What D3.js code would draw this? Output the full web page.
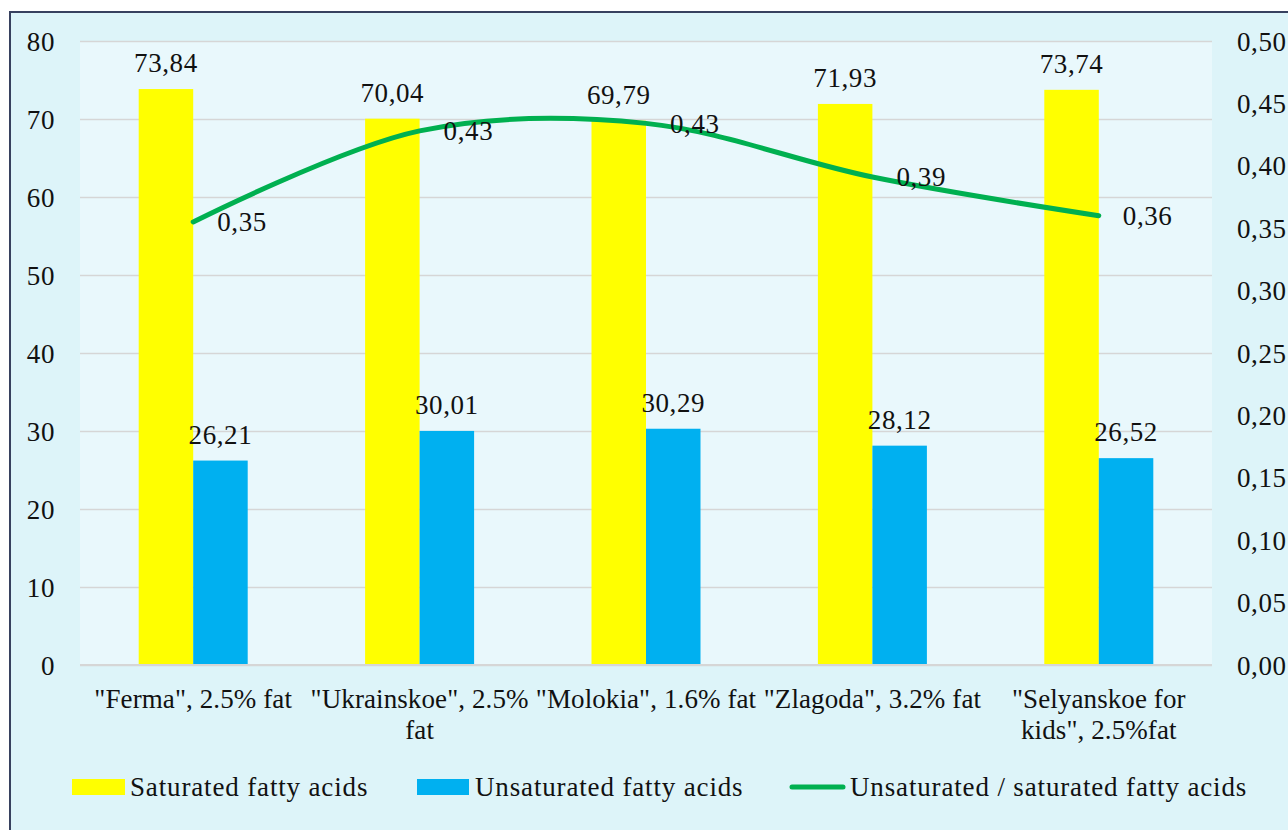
<!DOCTYPE html>
<html>
<head>
<meta charset="utf-8">
<script src="https://cdn.jsdelivr.net/npm/d3@7"></script>
<style>
  html, body { margin: 0; padding: 0; background: #ffffff; }
  svg { display: block; }
  text { font-family: "Liberation Serif", "Times New Roman", serif; fill: #111; letter-spacing: 0.6px; }
  text.cat { letter-spacing: 0.1px; }
  text.leg { letter-spacing: 0.85px; }
</style>
</head>
<body>
<svg id="chart" width="1288" height="830"></svg>
<script>
// ---- data ----
const categories = [
  ["\"Ferma\", 2.5% fat"],
  ["\"Ukrainskoe\", 2.5%", "fat"],
  ["\"Molokia\", 1.6% fat"],
  ["\"Zlagoda\", 3.2% fat"],
  ["\"Selyanskoe for", "kids\", 2.5%fat"]
];
const saturated   = [73.84, 70.04, 69.79, 71.93, 73.74];
const unsaturated = [26.21, 30.01, 30.29, 28.12, 26.52];
const ratio       = [0.355, 0.428, 0.434, 0.391, 0.360];
const leftTicks   = [0, 10, 20, 30, 40, 50, 60, 70, 80];
const rightTicks  = [0, 0.05, 0.10, 0.15, 0.20, 0.25, 0.30, 0.35, 0.40, 0.45, 0.50];
const seriesNames = ["Saturated fatty acids", "Unsaturated fatty acids", "Unsaturated / saturated fatty acids"];

// ---- layout ----
const W = 1288, H = 830;
const plot = { left: 80, right: 1212, top: 41, bottom: 665 };
const colors = { sat: "#ffff00", unsat: "#00b0f0", line: "#00b050" };
const fmt = (d, n) => d.toFixed(n).replace(".", ",");
const FS = 27;

const svg = d3.select("#chart");

// outer background + border
svg.append("rect").attr("x", 10).attr("y", 12).attr("width", W + 10).attr("height", H + 10)
  .attr("fill", "#ddf4f9").attr("stroke", "#37415f").attr("stroke-width", 2);

// plot background
svg.append("rect").attr("x", plot.left).attr("y", plot.top)
  .attr("width", plot.right - plot.left).attr("height", plot.bottom - plot.top)
  .attr("fill", "#e9f8fc");

const idx = categories.map((d, i) => i);
const groupW = 109;
const step = (plot.right - plot.left) / categories.length;
const pad = 1 - groupW / step;
const x0 = d3.scaleBand().domain(idx).range([plot.left, plot.right]).paddingInner(pad).paddingOuter(pad / 2);
const x1 = d3.scaleBand().domain(["sat", "unsat"]).range([0, x0.bandwidth()]);
const yL = d3.scaleLinear().domain([0, 80]).range([plot.bottom, plot.top]);
const yR = d3.scaleLinear().domain([0, 0.5]).range([plot.bottom, plot.top]);
const cx = i => x0(i) + x0.bandwidth() / 2;

// gridlines via axis
const grid = svg.append("g").attr("transform", `translate(${plot.left},0)`)
  .call(d3.axisLeft(yL).tickValues(leftTicks).tickSize(-(plot.right - plot.left)).tickFormat(""));
grid.select(".domain").remove();
grid.selectAll("line").attr("stroke", "#d6d6d6").attr("stroke-width", 1.6);

// left axis labels
const axL = svg.append("g").attr("transform", `translate(${plot.left},0)`)
  .call(d3.axisLeft(yL).tickValues(leftTicks).tickSize(0).tickPadding(25).tickFormat(d3.format("d")));
axL.select(".domain").remove();
axL.selectAll("text").attr("font-size", FS).attr("font-family", "Liberation Serif").attr("fill", "#111").attr("dy", "0.34em");

// right axis labels
const axR = svg.append("g").attr("transform", `translate(${plot.right},0)`)
  .call(d3.axisRight(yR).tickValues(rightTicks).tickSize(0).tickPadding(25).tickFormat(d => fmt(d, 2)));
axR.select(".domain").remove();
axR.selectAll("text").attr("font-size", FS).attr("font-family", "Liberation Serif").attr("fill", "#111").attr("dy", "0.34em");

// bars
const groups = svg.append("g").selectAll("g").data(idx).join("g")
  .attr("transform", i => `translate(${x0(i)},0)`);
groups.append("rect").attr("x", x1("sat")).attr("width", x1.bandwidth())
  .attr("y", i => yL(saturated[i])).attr("height", i => yL(0) - yL(saturated[i])).attr("fill", colors.sat);
groups.append("rect").attr("x", x1("unsat")).attr("width", x1.bandwidth())
  .attr("y", i => yL(unsaturated[i])).attr("height", i => yL(0) - yL(unsaturated[i])).attr("fill", colors.unsat);

// baseline
svg.append("line").attr("x1", plot.left).attr("x2", plot.right)
  .attr("y1", yL(0)).attr("y2", yL(0)).attr("stroke", "#d6d6d6").attr("stroke-width", 2);

// bar labels
groups.append("text").attr("x", x1("sat") + x1.bandwidth() / 2).attr("y", i => yL(saturated[i]) - 17)
  .attr("text-anchor", "middle").attr("font-size", FS).text(i => fmt(saturated[i], 2));
groups.append("text").attr("x", x1("unsat") + x1.bandwidth() / 2).attr("y", i => yL(unsaturated[i]) - 17)
  .attr("text-anchor", "middle").attr("font-size", FS).text(i => fmt(unsaturated[i], 2));

// line
const line = d3.line().x((d, i) => cx(i)).y(d => yR(d)).curve(d3.curveCatmullRom.alpha(0.5));
svg.append("path").datum(ratio).attr("d", line).attr("fill", "none")
  .attr("stroke", colors.line).attr("stroke-width", 5).attr("stroke-linecap", "round");

// line labels
svg.append("g").selectAll("text").data(ratio).join("text")
  .attr("x", (d, i) => cx(i) + 24).attr("y", d => yR(d)).attr("dy", "0.34em")
  .attr("font-size", FS).text(d => fmt(d, 2));

// category labels
const catG = svg.append("g").selectAll("text").data(idx).join("text")
  .attr("class", "cat")
  .attr("text-anchor", "middle").attr("font-size", FS)
  .attr("x", i => cx(i)).attr("y", 708);
catG.selectAll("tspan").data(i => categories[i].map(t => ({ t, i }))).join("tspan")
  .attr("x", d => cx(d.i)).attr("dy", (d, k) => k === 0 ? 0 : 31).text(d => d.t);

// legend
const lg = svg.append("g");
lg.append("rect").attr("x", 72).attr("y", 779).attr("width", 53).attr("height", 16).attr("fill", colors.sat);
lg.append("text").attr("class", "leg").attr("x", 130).attr("y", 796).attr("font-size", FS).text(seriesNames[0]);
lg.append("rect").attr("x", 417).attr("y", 779).attr("width", 52).attr("height", 16).attr("fill", colors.unsat);
lg.append("text").attr("class", "leg").attr("x", 475).attr("y", 796).attr("font-size", FS).text(seriesNames[1]);
lg.append("line").attr("x1", 792).attr("x2", 843).attr("y1", 787).attr("y2", 787)
  .attr("stroke", colors.line).attr("stroke-width", 5).attr("stroke-linecap", "round");
lg.append("text").attr("class", "leg").attr("x", 850).attr("y", 796).attr("font-size", FS).text(seriesNames[2]);
</script>
</body>
</html>
